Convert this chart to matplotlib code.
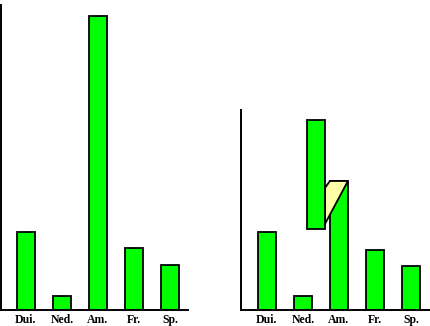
import matplotlib
matplotlib.use("Agg")
import matplotlib.pyplot as plt

categories = ["Dui.", "Ned.", "Am.", "Fr.", "Sp."]
left_values = [26.4, 4.6, 100.0, 21.0, 15.2]
right_values = [26.4, 4.6, 43.8, 20.3, 14.8]
# floating bar (moved part) above Ned. in right panel
float_bottom = 27.4
float_top = 64.6
float_offset = 0.36
fold_low = 29.1   # lower end of the fold diagonal on floating bar edge
fold_high = 41.4  # upper end of fold on floating bar edge

W, H = 430, 326
fig = plt.figure(figsize=(W / 100, H / 100), dpi=100)
fig.patch.set_facecolor("white")

green = "#00ff00"
yellow = "#ffffa8"
lw = 1.3
bw = 0.5

def make_ax(x0, x1, ytop, ybase, xl, xr, ymax):
    ax = fig.add_axes([x0 / W, (H - ybase) / H, (x1 - x0) / W, (ybase - ytop) / H])
    ax.set_xlim(xl, xr)
    ax.set_ylim(0, ymax)
    for s in ("top", "right"):
        ax.spines[s].set_visible(False)
    for s in ("left", "bottom"):
        ax.spines[s].set_linewidth(1.4)
        ax.spines[s].set_color("black")
    ax.set_yticks([])
    ax.set_xticks(range(len(categories)))
    ax.set_xticklabels(categories, fontfamily="Liberation Serif", fontweight="bold", fontsize=8.5)
    ax.tick_params(axis="x", length=0, pad=3.5)
    ax.set_facecolor("none")
    return ax

ax1 = make_ax(1, 188, 5, 309.5, -0.69, 4.5, 103.7)
ax1.bar(range(len(categories)), left_values, width=bw, color=green, edgecolor="black", linewidth=lw, zorder=2)

ax2 = make_ax(241, 430, 110, 309.5, -0.72, 4.53, 68.0)
ax2.bar(range(len(categories)), right_values, width=bw, color=green, edgecolor="black", linewidth=lw, zorder=2)

fx = 1 + float_offset
fr = fx + bw / 2
am_l, am_r = 2 - bw / 2, 2 + bw / 2
am_top = right_values[2]
ax2.fill([fr, am_l, am_r, fr], [fold_high, am_top, am_top, fold_low],
         facecolor=yellow, edgecolor="black", linewidth=lw, zorder=3, clip_on=False)
ax2.bar([fx], [float_top - float_bottom], bottom=[float_bottom], width=bw,
        color=green, edgecolor="black", linewidth=lw, zorder=4)

fig.savefig("out.png", dpi=100)
